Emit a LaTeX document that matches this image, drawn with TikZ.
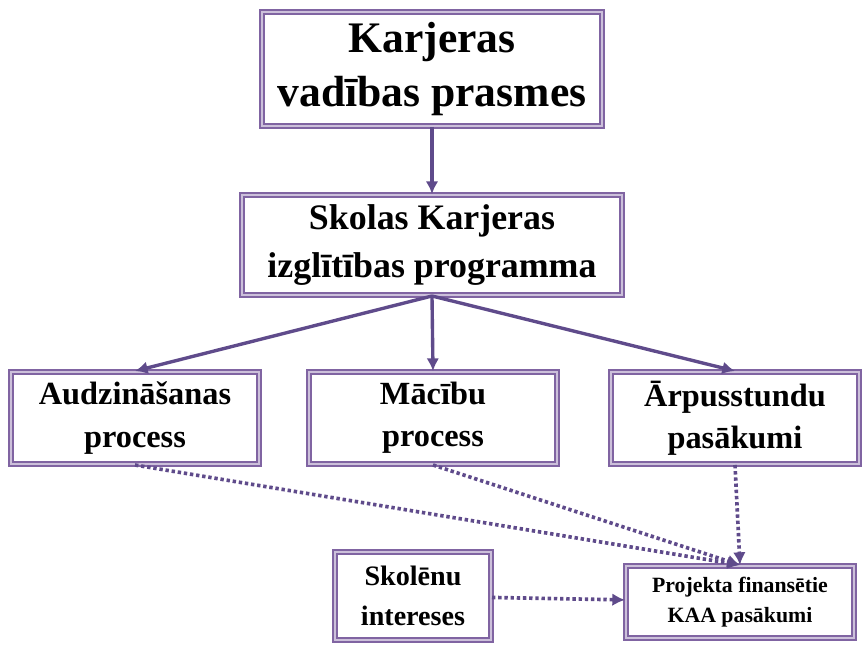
\documentclass[tikz,border=0pt]{standalone}
\usepackage{fontspec}
\setmainfont{Liberation Serif}
\usetikzlibrary{arrows.meta,positioning,shadows}
\definecolor{boxline}{HTML}{8064A2}
\definecolor{boxglow}{HTML}{CCC0DA}
\definecolor{arrowline}{HTML}{5F4B8B}
\tikzset{
  topic/.style={draw=boxline, line width=1.4pt, fill=white, align=center,
    font=\bfseries, inner sep=2pt,
    double=boxglow, double distance=1.4pt},
  link/.style={arrowline, line width=2.4pt, -{Latex[length=9pt,width=9pt]}},
  dotlink/.style={link, dotted, line width=2.6pt}
}
\begin{document}
\begin{tikzpicture}[x=0.025cm,y=-0.025cm]
    \useasboundingbox (0,0) rectangle (864,656);

    \node[topic, minimum width=8.5cm, minimum height=2.85cm, font=\bfseries\fontsize{31}{38}\selectfont] (skills) at (432,69) {Karjeras\\vadības prasmes};
    \node[topic, minimum width=9.5cm, minimum height=2.5cm, font=\bfseries\fontsize{25.5}{34}\selectfont] (program) at (432,245) {Skolas Karjeras\\izglītības programma};

    \node[topic, minimum width=6.2cm, minimum height=2.3cm, font=\bfseries\fontsize{23}{30}\selectfont] (upbring) at (135,418) {Audzināšanas\\process};
    \node[topic, minimum width=6.2cm, minimum height=2.3cm, font=\bfseries\fontsize{23}{30}\selectfont] (study) at (433,418) {Mācību\\process};
    \node[topic, minimum width=6.2cm, minimum height=2.3cm, font=\bfseries\fontsize{23}{30}\selectfont] (extra) at (735,418) {Ārpusstundu\\pasākumi};

    \node[topic, minimum width=3.9cm, minimum height=2.2cm, font=\bfseries\fontsize{20}{28}\selectfont] (pupils) at (413,596) {Skolēnu\\intereses};
    \node[topic, minimum width=5.7cm, minimum height=1.8cm, font=\bfseries\fontsize{15.5}{21}\selectfont] (project) at (740,602) {Projekta finansētie\\KAA pasākumi};

    \draw[link] (skills) -- (program);
    \draw[link] (program.south) -- (upbring.north);
    \draw[link] (program.south) -- (study.north);
    \draw[link] (program.south) -- (extra.north);

    \draw[dotlink] (upbring.south) -- (project.north);
    \draw[dotlink] (study.south) -- (project.north);
    \draw[dotlink] (extra.south) -- (project.north);
    \draw[dotlink] (pupils) -- (project);
\end{tikzpicture}
\end{document}
